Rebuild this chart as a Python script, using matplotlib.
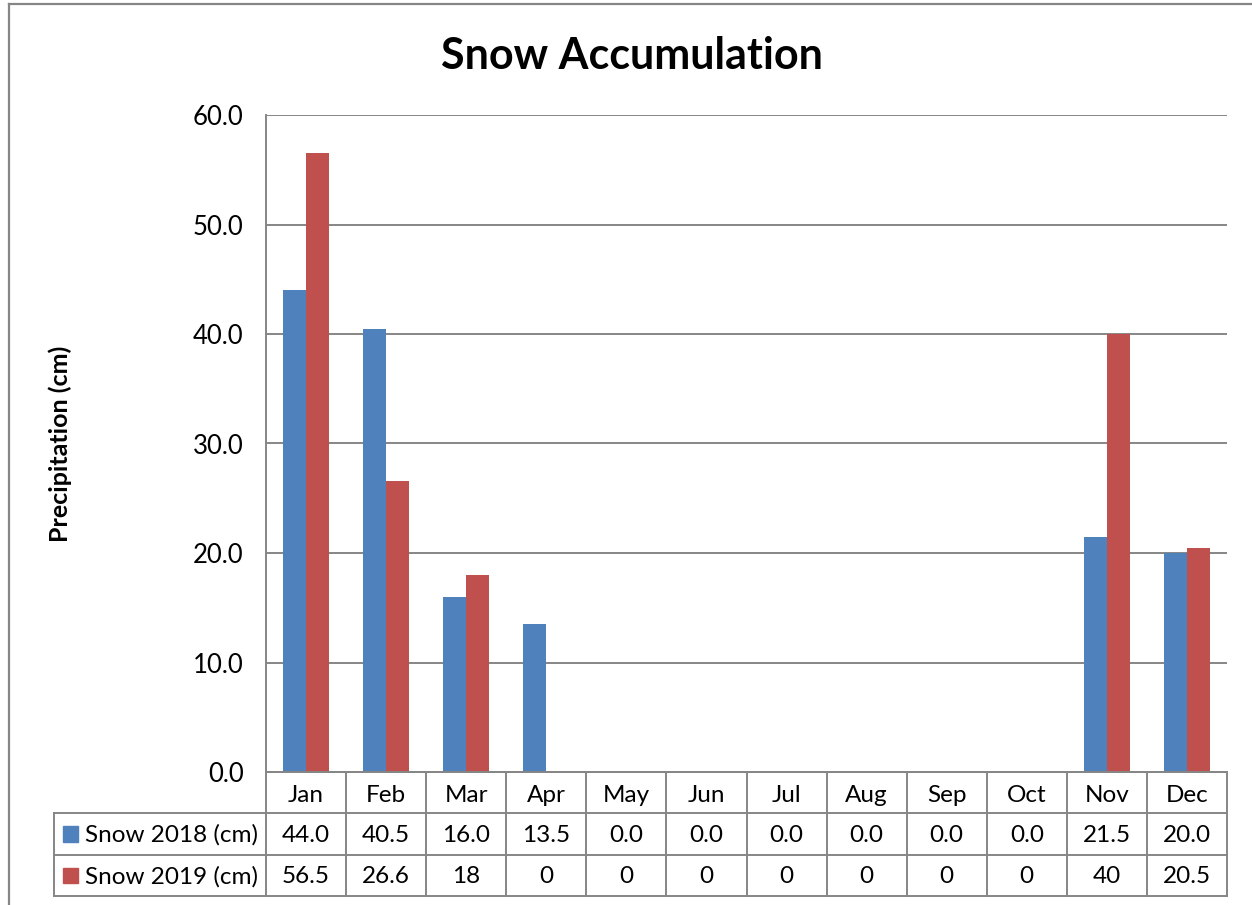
import matplotlib.pyplot as plt
from matplotlib.lines import Line2D
from matplotlib.patches import Rectangle

plt.rcParams['font.family'] = ['Lato', 'DejaVu Sans']

months = ['Jan', 'Feb', 'Mar', 'Apr', 'May', 'Jun', 'Jul', 'Aug', 'Sep', 'Oct', 'Nov', 'Dec']
snow_2018 = [44.0, 40.5, 16.0, 13.5, 0.0, 0.0, 0.0, 0.0, 0.0, 0.0, 21.5, 20.0]
snow_2019 = [56.5, 26.6, 18, 0, 0, 0, 0, 0, 0, 0, 40, 20.5]
labels_2018 = ['%.1f' % v for v in snow_2018]
labels_2019 = ['56.5', '26.6', '18', '0', '0', '0', '0', '0', '0', '0', '40', '20.5']
series_names = ['Snow 2018 (cm)', 'Snow 2019 (cm)']

blue = '#4F81BD'
red = '#C0504D'
grey = '#868686'

W, H = 1252, 905
fig = plt.figure(figsize=(W / 100, H / 100), dpi=100)


def box(x0, y0, x1, y1):
    # pixel box (top-left origin) -> figure fraction rect
    return [x0 / W, (H - y1) / H, (x1 - x0) / W, (y1 - y0) / H]


# chart frame
fig.add_artist(Line2D([9 / W, 9 / W], [0, 1 - 4 / H], color=grey, lw=1.6))
fig.add_artist(Line2D([9 / W, 1], [1 - 4 / H, 1 - 4 / H], color=grey, lw=1.6))

ax = fig.add_axes(box(266, 115, 1227, 772))
x = list(range(len(months)))
w = 0.285
ax.bar([i - w / 2 for i in x], snow_2018, width=w, color=blue, zorder=3)
ax.bar([i + w / 2 for i in x], snow_2019, width=w, color=red, zorder=3)
ax.set_xlim(-0.5, 11.5)
ax.set_ylim(0, 60)
ax.set_yticks(range(0, 61, 10))
ax.set_yticklabels(['%.1f' % v for v in range(0, 61, 10)], fontsize=18.5)
ax.tick_params(axis='y', length=0, pad=16)
ax.set_xticks([])
ax.yaxis.grid(True, color=grey, lw=1.4)
ax.set_axisbelow(True)
for s in ['top', 'right']:
    ax.spines[s].set_visible(False)
for s in ['left', 'bottom']:
    ax.spines[s].set_color(grey)
    ax.spines[s].set_linewidth(1.4)

fig.text(632 / W, 1 - 56 / H, 'Snow Accumulation', ha='center', va='center',
         fontsize=31, fontweight='bold')
fig.text(60 / W, 1 - 444 / H, 'Precipitation (cm)', ha='center', va='center',
         rotation=90, fontsize=18, fontweight='bold')

# data table under the axis
tb = fig.add_axes(box(54, 772, 1227, 896))
col = (1227 - 266) / 12
xmin = -0.5 - (266 - 54) / col
tb.set_xlim(xmin, 11.5)
tb.set_ylim(3, 0)
tb.axis('off')
lk = dict(color=grey, lw=1.4, clip_on=False, solid_capstyle='projecting')
for k in range(13):
    tb.plot([k - 0.5, k - 0.5], [0, 3], **lk)
tb.plot([xmin, xmin], [1, 3], **lk)
tb.plot([-0.5, 11.5], [0, 0], **lk)
for r in [1, 2, 3]:
    tb.plot([xmin, 11.5], [r, r], **lk)

fs = 17.5
for i, m in enumerate(months):
    tb.text(i, 0.56, m, ha='center', va='center', fontsize=fs)
    tb.text(i, 1.53, labels_2018[i], ha='center', va='center', fontsize=fs)
    tb.text(i, 2.53, labels_2019[i], ha='center', va='center', fontsize=fs)

sq_w = 15 / col
sq_h = 15 / 41
for r, (name, c) in enumerate(zip(series_names, [blue, red])):
    x0 = xmin + 9 / col
    tb.add_patch(Rectangle((x0, r + 1.5 - sq_h / 2), sq_w, sq_h, color=c, clip_on=False))
    tb.text(x0 + sq_w + 7 / col, r + 1.53, name, ha='left', va='center', fontsize=fs)

fig.savefig('out.png', dpi=100)
